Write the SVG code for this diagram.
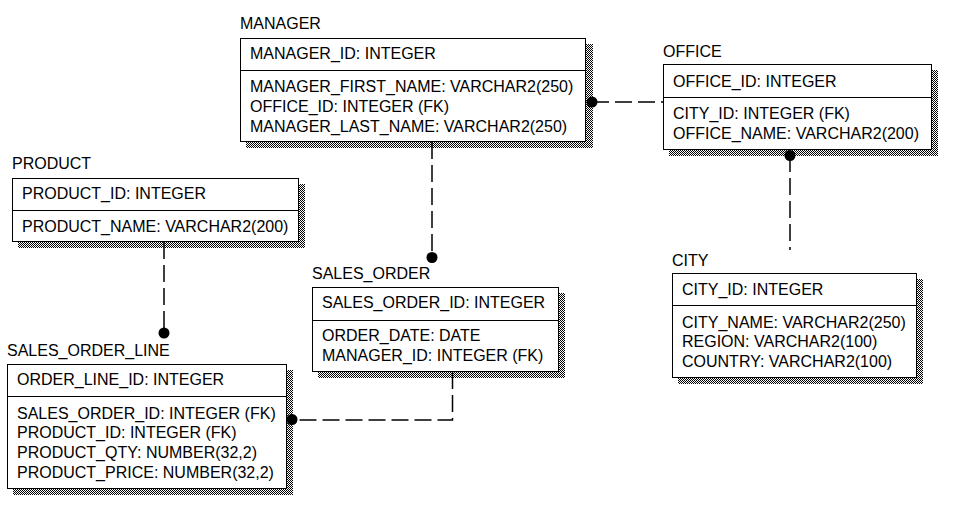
<svg xmlns="http://www.w3.org/2000/svg" width="978" height="510" viewBox="0 0 978 510">
<style>
text{font-family:"Liberation Sans",Arial,sans-serif;font-size:16px;fill:#000}
.box{fill:#fff;stroke:#000;stroke-width:1;shape-rendering:crispEdges}
.div{stroke:#000;stroke-width:1;shape-rendering:crispEdges}
.sh{fill:url(#dither);shape-rendering:crispEdges}
.conn{fill:none;stroke:#000;stroke-width:1.5;stroke-dasharray:17 6}
.dot{fill:#000}
</style>
<defs>
<pattern id="dither" width="2" height="2" patternUnits="userSpaceOnUse">
<rect width="2" height="2" fill="#fff"/>
<rect width="1" height="1" fill="#000"/>
<rect x="1" y="1" width="1" height="1" fill="#000"/>
</pattern>
</defs>
<rect width="978" height="510" fill="#fff"/>

<g id="MANAGER">
<text x="240" y="29">MANAGER</text>
<rect class="sh" x="246" y="44" width="347" height="104"/>
<rect class="box" x="240.5" y="38.5" width="345" height="103"/>
<line class="div" x1="240" y1="70.5" x2="586" y2="70.5"/>
<text x="250" y="59">MANAGER_ID: INTEGER</text>
<text x="250" y="92">MANAGER_FIRST_NAME: VARCHAR2(250)</text>
<text x="250" y="111.8">OFFICE_ID: INTEGER (FK)</text>
<text x="250" y="131.6">MANAGER_LAST_NAME: VARCHAR2(250)</text>
</g>

<g id="OFFICE">
<text x="663" y="57">OFFICE</text>
<rect class="sh" x="669" y="70" width="269" height="86"/>
<rect class="box" x="663.5" y="64.5" width="268" height="85"/>
<line class="div" x1="663" y1="97.5" x2="932" y2="97.5"/>
<text x="673" y="86.5">OFFICE_ID: INTEGER</text>
<text x="673" y="119">CITY_ID: INTEGER (FK)</text>
<text x="673" y="139">OFFICE_NAME: VARCHAR2(200)</text>
</g>

<g id="PRODUCT">
<text x="12" y="169">PRODUCT</text>
<rect class="sh" x="18" y="184" width="287" height="64"/>
<rect class="box" x="12.5" y="178.5" width="286" height="63"/>
<line class="div" x1="12" y1="210.5" x2="299" y2="210.5"/>
<text x="22" y="199">PRODUCT_ID: INTEGER</text>
<text x="22" y="231.7">PRODUCT_NAME: VARCHAR2(200)</text>
</g>

<g id="SALES_ORDER">
<text x="312" y="278.5">SALES_ORDER</text>
<rect class="sh" x="318" y="293" width="247" height="85"/>
<rect class="box" x="312.5" y="287.5" width="246" height="84"/>
<line class="div" x1="312" y1="320.5" x2="559" y2="320.5"/>
<text x="322" y="307.7">SALES_ORDER_ID: INTEGER</text>
<text x="322" y="341">ORDER_DATE: DATE</text>
<text x="322" y="360.7">MANAGER_ID: INTEGER (FK)</text>
</g>

<g id="SALES_ORDER_LINE">
<text x="7" y="356">SALES_ORDER_LINE</text>
<rect class="sh" x="13" y="370" width="280" height="125"/>
<rect class="box" x="7.5" y="364.5" width="279" height="124"/>
<line class="div" x1="7" y1="396.5" x2="287" y2="396.5"/>
<text x="17" y="385">ORDER_LINE_ID: INTEGER</text>
<text x="17" y="418.5">SALES_ORDER_ID: INTEGER (FK)</text>
<text x="17" y="438.3">PRODUCT_ID: INTEGER (FK)</text>
<text x="17" y="458.1">PRODUCT_QTY: NUMBER(32,2)</text>
<text x="17" y="477.9">PRODUCT_PRICE: NUMBER(32,2)</text>
</g>

<g id="CITY">
<text x="672" y="265.5">CITY</text>
<rect class="sh" x="678" y="279" width="245" height="105"/>
<rect class="box" x="672.5" y="273.5" width="244" height="104"/>
<line class="div" x1="672" y1="305.5" x2="917" y2="305.5"/>
<text x="682" y="295">CITY_ID: INTEGER</text>
<text x="682" y="327.5">CITY_NAME: VARCHAR2(250)</text>
<text x="682" y="347.3">REGION: VARCHAR2(100)</text>
<text x="682" y="367.1">COUNTRY: VARCHAR2(100)</text>
</g>

<g id="connectors">
<line class="conn" x1="592" y1="102" x2="663" y2="102"/>
<circle class="dot" cx="592" cy="102" r="5.5"/>
<line class="conn" x1="432" y1="142" x2="432" y2="257"/>
<circle class="dot" cx="432" cy="257.5" r="5.5"/>
<line class="conn" x1="164" y1="242" x2="164" y2="333"/>
<circle class="dot" cx="164" cy="333" r="5.5"/>
<polyline class="conn" points="452.5,372 452.5,420 292,420"/>
<circle class="dot" cx="292" cy="419.5" r="5.5"/>
<line class="conn" x1="790" y1="155" x2="790" y2="250"/>
<circle class="dot" cx="790" cy="155.5" r="5.5"/>
</g>
</svg>
